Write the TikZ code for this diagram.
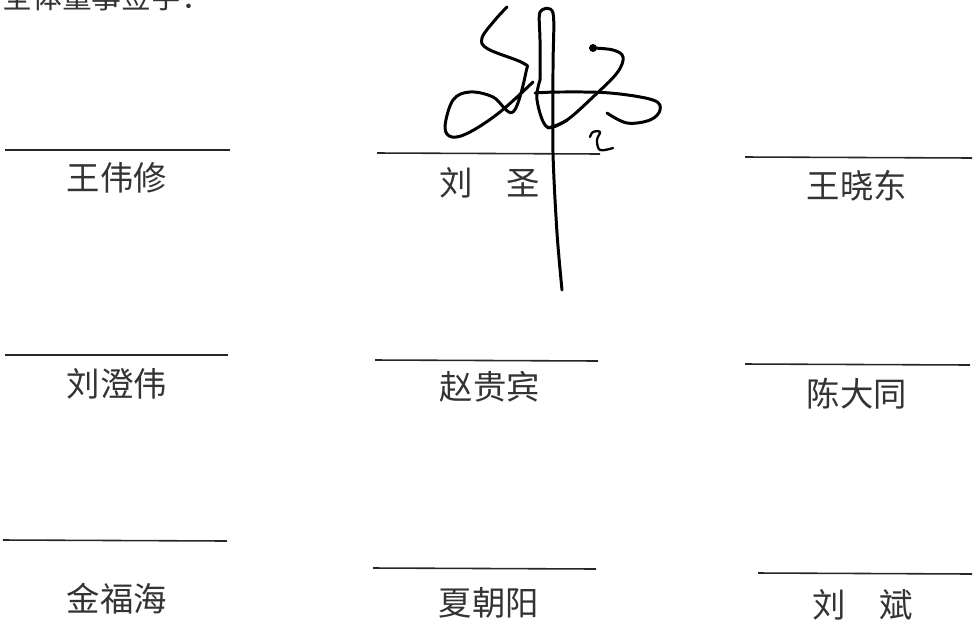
\documentclass[tikz,border=0pt]{standalone}
\usepackage{fontspec}
\setmainfont{Noto Sans CJK SC}
\usepackage{tikz}

\begin{document}
\begin{tikzpicture}[x=0.02cm,y=-0.02cm,
    namelabel/.style={text=black!80,font=\fontsize{19}{19}\selectfont,inner sep=0pt},
    signline/.style={line width=0.9pt,black!85},
    ink/.style={line width=1.7pt,line cap=round,line join=round}]
    \useasboundingbox (0,0) rectangle (976,643);

    \node[namelabel,anchor=west,font=\fontsize{17}{17}\selectfont] (title) at (2,-3) {全体董事签字：};

    \draw[signline] (5,150) -- (230,150);
    \draw[signline] (377,153) -- (600,154);
    \draw[signline] (745,157) -- (972,158);
    \node[namelabel] (wangweixiu) at (117,178) {王伟修};
    \node[namelabel] (liusheng) at (490,183) {刘\hspace{1em}圣};
    \node[namelabel] (wangxiaodong) at (857,186) {王晓东};

    \draw[signline] (5,355) -- (228,355);
    \draw[signline] (375,360) -- (598,361);
    \draw[signline] (745,364) -- (970,365);
    \node[namelabel] (liuchengwei) at (117,384) {刘澄伟};
    \node[namelabel] (zhaoguibin) at (490,387) {赵贵宾};
    \node[namelabel] (chendatong) at (857,394) {陈大同};

    \draw[signline] (3,540) -- (227,541);
    \draw[signline] (373,568) -- (596,569);
    \draw[signline] (758,573) -- (972,574);
    \node[namelabel] (jinfuhai) at (117,599) {金福海};
    \node[namelabel] (xiachaoyang) at (489,603) {夏朝阳};
    \node[namelabel] (liubin) at (863,605) {刘\hspace{1em}斌};

    \draw[ink] plot[smooth,tension=0.6] coordinates {(507,7) (495,20) (482,38) (488,49) (523,63) (526,72) (513,112)
        (493,97) (470,92) (453,100) (445,127) (452,137) (470,132) (500,112) (533,82)};
    \draw[ink] plot[smooth,tension=0.5] coordinates {(540,80) (540,40) (540,12) (553,13) (553,67) (553,153) (557,233) (562,290)};
    \draw[ink] plot[smooth,tension=0.6] coordinates {(540,80) (537,100) (547,127) (567,120)};
    \draw[ink] plot[smooth,tension=0.6] coordinates {(535,93) (560,92) (610,93) (653,100) (660,110) (650,120) (627,123) (607,113)};
    \draw[ink] plot[smooth,tension=0.6] coordinates {(593,48) (613,50) (623,57) (617,73) (593,97) (567,120) (548,128)};
    \fill (593,48) circle (4);
    \draw[ink,line width=1.3pt] plot[smooth,tension=0.6] coordinates {(590,137) (593,132) (600,132) (597,140) (600,150) (613,148)};
\end{tikzpicture}
\end{document}
